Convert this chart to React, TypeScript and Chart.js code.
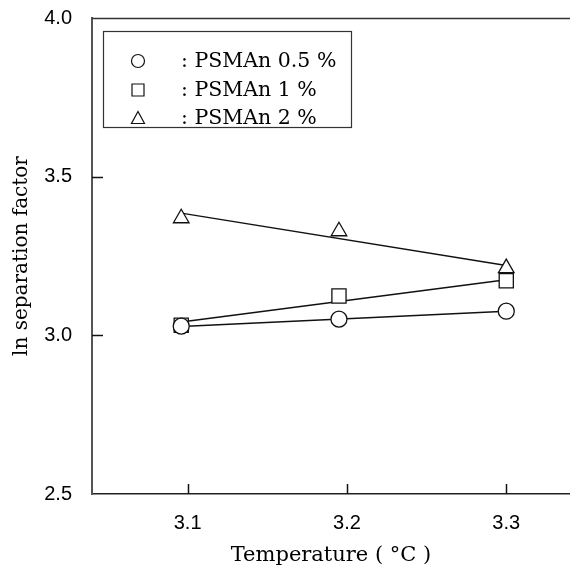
import React, { useEffect, useRef } from "react";
import { Chart, registerables } from "chart.js";

Chart.register(...registerables);

// Data
const temps = [3.096, 3.195, 3.3];
const psman05 = [3.029, 3.051, 3.076];
const psman1 = [3.032, 3.124, 3.172];
const psman2 = [3.369, 3.328, 3.212];

// Fitted (straight) lines: start / end values at first / last temperature
const fitX = [3.096, 3.3];
const fit05 = [3.028, 3.076];
const fit1 = [3.042, 3.175];
const fit2 = [3.385, 3.22];

const xTicks = [3.1, 3.2, 3.3];
const yTicks = [2.5, 3.0, 3.5, 4.0];
const innerTicksY = [3.0, 3.5];

const legendLabels = [": PSMAn 0.5 %", ": PSMAn 1 %", ": PSMAn 2 %"];
const legendStyles = ["circle", "rect", "triangle"];

const xTitle = "Temperature ( \u00B0C )";
const yTitle = "ln separation factor";

const SERIF = "'DejaVu Serif', serif";
const SANS = "'Liberation Sans', Arial, sans-serif";

const pts = (xs: number[], ys: number[]) => xs.map((x, i) => ({ x, y: ys[i] }));

const overlay = {
  id: "overlay",
  afterDraw(chart: any) {
    const { ctx, chartArea, scales } = chart;
    const xs = scales.x;
    const ys = scales.y;
    ctx.save();
    // top frame line
    ctx.strokeStyle = "#333";
    ctx.lineWidth = 1.5;
    ctx.beginPath();
    ctx.moveTo(chartArea.left, chartArea.top + 0.5);
    ctx.lineTo(chartArea.right, chartArea.top + 0.5);
    ctx.stroke();
    // inward tick marks
    ctx.strokeStyle = "#111";
    ctx.lineWidth = 1.5;
    xTicks.forEach((v) => {
      const px = Math.round(xs.getPixelForValue(v)) + 0.5;
      ctx.beginPath();
      ctx.moveTo(px, chartArea.bottom);
      ctx.lineTo(px, chartArea.bottom - 10);
      ctx.stroke();
    });
    innerTicksY.forEach((v) => {
      const py = Math.round(ys.getPixelForValue(v)) + 0.5;
      ctx.beginPath();
      ctx.moveTo(chartArea.left, py);
      ctx.lineTo(chartArea.left + 11, py);
      ctx.stroke();
    });
    // legend box
    const bx = 103.5, by = 31.5, bw = 248, bh = 96;
    ctx.strokeStyle = "#333";
    ctx.lineWidth = 1.2;
    ctx.strokeRect(bx, by, bw, bh);
    const rows = [61, 90, 118];
    ctx.fillStyle = "#000";
    ctx.font = "20.5px " + SERIF;
    ctx.textBaseline = "middle";
    ctx.textAlign = "left";
    rows.forEach((ry, i) => {
      const mx = 138;
      ctx.strokeStyle = "#111";
      ctx.lineWidth = 1.2;
      ctx.beginPath();
      if (legendStyles[i] === "circle") {
        ctx.arc(mx, ry, 6.5, 0, Math.PI * 2);
      } else if (legendStyles[i] === "rect") {
        ctx.rect(mx - 6, ry - 6, 12, 12);
      } else {
        ctx.moveTo(mx, ry - 6.5);
        ctx.lineTo(mx + 6.5, ry + 5.5);
        ctx.lineTo(mx - 6.5, ry + 5.5);
        ctx.closePath();
      }
      ctx.stroke();
      ctx.fillText(legendLabels[i], 181, ry + 1);
    });
    // x title
    ctx.font = "21px " + SERIF;
    ctx.textAlign = "center";
    ctx.fillText(xTitle, (chartArea.left + chartArea.right) / 2, 556);
    ctx.restore();
  },
};

export default function App() {
  const ref = useRef<HTMLCanvasElement | null>(null);
  useEffect(() => {
    if (!ref.current) return;
    const pointBase = {
      type: "scatter" as const,
      showLine: false,
      borderColor: "#111",
      backgroundColor: "#fff",
      borderWidth: 1.3,
    };
    const lineBase = {
      type: "line" as const,
      borderColor: "#111",
      borderWidth: 1.4,
      pointRadius: 0,
      fill: false,
      tension: 0,
    };
    const chart = new Chart(ref.current, {
      type: "scatter",
      data: {
        datasets: [
          { ...pointBase, label: "PSMAn 0.5 %", data: pts(temps, psman05), pointStyle: "circle", pointRadius: 8 },
          { ...pointBase, label: "PSMAn 1 %", data: pts(temps, psman1), pointStyle: "rect", pointRadius: 10 },
          { ...pointBase, label: "PSMAn 2 %", data: pts(temps, psman2), pointStyle: "triangle", pointRadius: 9 },
          { ...lineBase, label: "fit 0.5", data: pts(fitX, fit05) },
          { ...lineBase, label: "fit 1", data: pts(fitX, fit1) },
          { ...lineBase, label: "fit 2", data: pts(fitX, fit2) },
        ] as any,
      },
      options: {
        responsive: false,
        animation: false,
        layout: { autoPadding: false, padding: { top: 18, left: 0, right: 0, bottom: 0 } },
        plugins: { legend: { display: false }, tooltip: { enabled: false } },
        scales: {
          x: {
            type: "linear",
            min: 3.04,
            max: 3.34,
            grid: { display: false },
            border: { display: true, color: "#222", width: 1.6 },
            afterBuildTicks: (s: any) => {
              s.ticks = xTicks.map((v) => ({ value: v }));
            },
            afterFit: (s: any) => {
              s.height = 87;
              s.paddingLeft = 0;
              s.paddingRight = 0;
            },
            ticks: {
              color: "#000",
              padding: 9,
              font: { family: SANS, size: 20 },
              callback: (v: any) => Number(v).toFixed(1),
            },
          },
          y: {
            type: "linear",
            min: 2.5,
            max: 4.0,
            grid: { display: false },
            border: { display: true, color: "#555", width: 2 },
            afterBuildTicks: (s: any) => {
              s.ticks = yTicks.map((v) => ({ value: v }));
            },
            afterFit: (s: any) => {
              s.width = 92;
              s.paddingTop = 0;
              s.paddingBottom = 0;
            },
            ticks: {
              color: "#000",
              padding: 12,
              font: { family: SANS, size: 20 },
              callback: (v: any) => Number(v).toFixed(1),
            },
            title: {
              display: true,
              text: yTitle,
              color: "#000",
              font: { family: SERIF, size: 20 },
              padding: { top: 10, bottom: 0 },
            },
          },
        },
      },
      plugins: [overlay],
    });
    return () => chart.destroy();
  }, []);
  return (
    <div style={{ position: "fixed", left: 0, top: 0, width: 570, height: 581, background: "#fff" }}>
      <canvas ref={ref} width={570} height={581} />
    </div>
  );
}
